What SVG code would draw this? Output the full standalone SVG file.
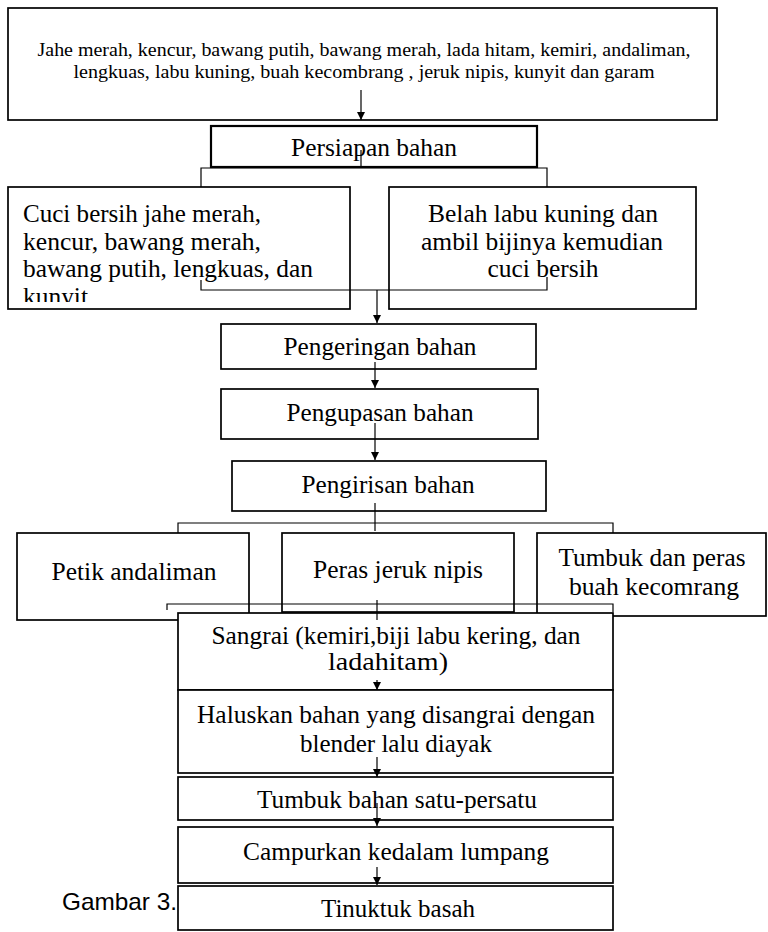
<svg xmlns="http://www.w3.org/2000/svg" width="768" height="932" viewBox="0 0 768 932">
<style>
.box{fill:#fff;stroke:#000;stroke-width:1.7}
.t{font-family:"Liberation Serif","Times New Roman",serif;font-size:25px;fill:#000}
.ts{font-family:"Liberation Serif","Times New Roman",serif;font-size:18px;fill:#000}
.c{text-anchor:middle}
.ln{fill:none;stroke:#000;stroke-width:1.2}
</style>
<defs>
<marker id="ah" viewBox="0 0 10 10" refX="10" refY="5" markerWidth="8" markerHeight="9" markerUnits="userSpaceOnUse" orient="auto">
<path d="M0,0 L10,5 L0,10 z" fill="#000"/>
</marker>
<clipPath id="cuciClip"><rect x="8" y="187" width="342" height="115"/></clipPath>
</defs>
<g id="n-top"><rect class="box" x="8" y="8" width="709" height="112"/>
<text class="ts c" x="364" y="56" textLength="653" lengthAdjust="spacingAndGlyphs">Jahe merah, kencur, bawang putih, bawang merah, lada hitam, kemiri, andaliman,</text>
<text class="ts c" x="364" y="78" textLength="581" lengthAdjust="spacingAndGlyphs">lengkuas, labu kuning, buah kecombrang , jeruk nipis, kunyit dan garam</text></g>
<g id="n-persiapan"><rect class="box" x="211" y="126" width="326" height="41" style="stroke-width:2.2"/>
<text class="t c" x="374" y="156" textLength="166" lengthAdjust="spacingAndGlyphs">Persiapan bahan</text></g>
<g id="n-cuci"><rect class="box" x="8" y="187" width="342" height="122"/>
<g clip-path="url(#cuciClip)">
<text class="t" x="23" y="222" textLength="238" lengthAdjust="spacingAndGlyphs">Cuci bersih jahe merah,</text>
<text class="t" x="23" y="250" textLength="238" lengthAdjust="spacingAndGlyphs">kencur, bawang merah,</text>
<text class="t" x="23" y="277" textLength="290" lengthAdjust="spacingAndGlyphs">bawang putih, lengkuas, dan</text>
<text class="t" x="23" y="305" textLength="65" lengthAdjust="spacingAndGlyphs">kunyit</text></g></g>
<g id="n-belah"><rect class="box" x="389" y="187" width="307" height="122"/>
<text class="t c" x="543" y="222" textLength="230" lengthAdjust="spacingAndGlyphs">Belah labu kuning dan</text>
<text class="t c" x="542" y="250" textLength="242" lengthAdjust="spacingAndGlyphs">ambil bijinya kemudian</text>
<text class="t c" x="543" y="277" textLength="111" lengthAdjust="spacingAndGlyphs">cuci bersih</text></g>
<g id="n-pengeringan"><rect class="box" x="221" y="324" width="315" height="45"/>
<text class="t c" x="380" y="355" textLength="193" lengthAdjust="spacingAndGlyphs">Pengeringan bahan</text></g>
<g id="n-pengupasan"><rect class="box" x="221" y="389" width="317" height="50"/>
<text class="t c" x="380" y="421" textLength="187" lengthAdjust="spacingAndGlyphs">Pengupasan bahan</text></g>
<g id="n-pengirisan"><rect class="box" x="232" y="461" width="314" height="50"/>
<text class="t c" x="388" y="493" textLength="173" lengthAdjust="spacingAndGlyphs">Pengirisan bahan</text></g>
<g id="n-petik"><rect class="box" x="17" y="533" width="232" height="87"/>
<text class="t c" x="134" y="580" textLength="165" lengthAdjust="spacingAndGlyphs">Petik andaliman</text></g>
<g id="n-peras"><rect class="box" x="282" y="533" width="232" height="79"/>
<text class="t c" x="398" y="578" textLength="170" lengthAdjust="spacingAndGlyphs">Peras jeruk nipis</text></g>
<g id="n-tumbukperas"><rect class="box" x="537" y="533" width="229" height="83"/>
<text class="t c" x="652" y="566" textLength="187" lengthAdjust="spacingAndGlyphs">Tumbuk dan peras</text>
<text class="t c" x="654" y="595" textLength="170" lengthAdjust="spacingAndGlyphs">buah kecomrang</text></g>
<g id="n-sangrai"><rect class="box" x="178" y="613" width="435" height="77"/>
<text class="t c" x="396" y="644" textLength="369" lengthAdjust="spacingAndGlyphs">Sangrai (kemiri,biji labu kering, dan</text>
<text class="t c" x="388" y="670" textLength="120" lengthAdjust="spacingAndGlyphs">ladahitam)</text></g>
<g id="n-haluskan"><rect class="box" x="178" y="690" width="435" height="83"/>
<text class="t c" x="396" y="723" textLength="398" lengthAdjust="spacingAndGlyphs">Haluskan bahan yang disangrai dengan</text>
<text class="t c" x="396" y="752" textLength="192" lengthAdjust="spacingAndGlyphs">blender lalu diayak</text></g>
<g id="n-tumbukbahan"><rect class="box" x="178" y="777" width="435" height="43"/>
<text class="t c" x="397" y="808" textLength="280" lengthAdjust="spacingAndGlyphs">Tumbuk bahan satu-persatu</text></g>
<g id="n-campurkan"><rect class="box" x="178" y="827" width="435" height="56"/>
<text class="t c" x="396" y="860" textLength="306" lengthAdjust="spacingAndGlyphs">Campurkan kedalam lumpang</text></g>
<g id="n-tinuktuk"><rect class="box" x="178" y="886" width="435" height="44"/>
<text class="t c" x="398" y="917" textLength="154" lengthAdjust="spacingAndGlyphs">Tinuktuk basah</text></g>
<g id="caption"><text x="62" y="910" textLength="115" lengthAdjust="spacingAndGlyphs" style="font-family:'Liberation Sans',Arial,sans-serif;font-size:24px;fill:#000">Gambar 3.</text></g>
<g id="connectors">
<path class="ln" d="M361,90 V120" marker-end="url(#ah)"/>
<path class="ln" d="M361,150 V168"/>
<path class="ln" d="M201,187 V168 H547 V187"/>
<path class="ln" d="M201,280 V290 H547 V277"/>
<path class="ln" d="M377,290 V323" marker-end="url(#ah)"/>
<path class="ln" d="M375,362 V388" marker-end="url(#ah)"/>
<path class="ln" d="M375,423 V460" marker-end="url(#ah)"/>
<path class="ln" d="M375,503 V531"/>
<path class="ln" d="M178,533 V523 H613 V533"/>
<path class="ln" d="M167,610 V604 H613 V612"/>
<path class="ln" d="M377,600 V620"/>
<path class="ln" d="M377,680 V690" marker-end="url(#ah)"/>
<path class="ln" d="M377,757 V777" marker-end="url(#ah)"/>
<path class="ln" d="M377,803 V826" marker-end="url(#ah)"/>
<path class="ln" d="M377,867 V885" marker-end="url(#ah)"/>
</g>
</svg>
